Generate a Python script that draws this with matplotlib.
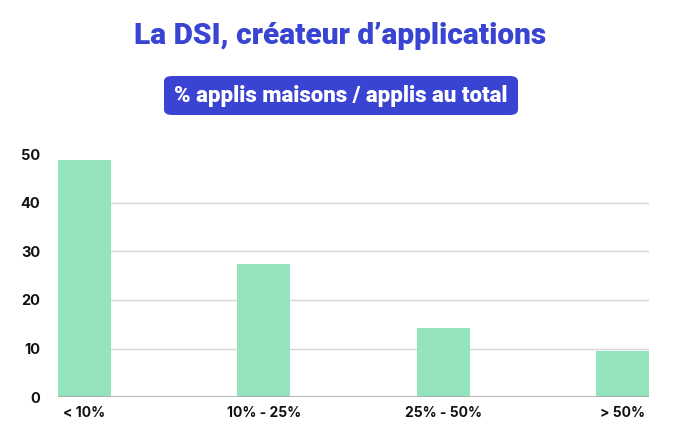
import matplotlib.pyplot as plt
from matplotlib.patches import FancyBboxPatch

# ── données ───────────────────────────────────────────────
categories = ["< 10%", "10% - 25%", "25% - 50%", "> 50%"]
values = [48.8, 27.3, 14.3, 9.5]
yticks = [0, 10, 20, 30, 40, 50]

BLUE = "#3a44d2"
GREEN = "#93e3bd"

plt.rcParams["font.family"] = ["Inter", "DejaVu Sans"]

fig = plt.figure(figsize=(6.76, 4.44), dpi=100)
ax = fig.add_axes([58 / 676, 46.7 / 444, 591 / 676, 243.3 / 444])

x = range(len(categories))
ax.bar(x, values, width=0.296, color=GREEN, zorder=2)
ax.set_xlim(-0.148, len(categories) - 1 + 0.148)
ax.set_ylim(0, 50)
ax.set_yticks(yticks)
ax.set_xticks(list(x))
ax.set_xticklabels(categories, fontsize=10, fontweight="bold", color="#111111")
ax.set_yticklabels([str(t) for t in yticks], fontsize=10.5, fontweight="bold", color="#111111")
ax.tick_params(axis="y", length=0, pad=13)
ax.tick_params(axis="x", length=0, pad=6)

for t in yticks[1:-1]:
    ax.axhline(t, color="#d6d6d6", linewidth=1, zorder=1)
ax.axhline(0, color="#aaaaaa", linewidth=1.2, zorder=3)
for s in ax.spines.values():
    s.set_visible(False)

# ── titre et étiquette ────────────────────────────────────
fig.text(340 / 676, 1 - 36 / 444, "La DSI, créateur d\u2019applications",
         ha="center", va="center", fontsize=21.5, fontweight="heavy", color=BLUE,
         family=["Roboto", "DejaVu Sans"])

box = FancyBboxPatch((164 / 676, 1 - 115 / 444), 354 / 676, 39 / 444,
                     boxstyle="round,pad=0,rounding_size=0.012",
                     transform=fig.transFigure, facecolor=BLUE, edgecolor="none")
fig.patches.append(box)
fig.text(341 / 676, 1 - 96 / 444, "% applis maisons / applis au total",
         ha="center", va="center", fontsize=16, fontweight="heavy", color="white",
         family=["Roboto", "DejaVu Sans"])

plt.savefig("out.png", dpi=100)
